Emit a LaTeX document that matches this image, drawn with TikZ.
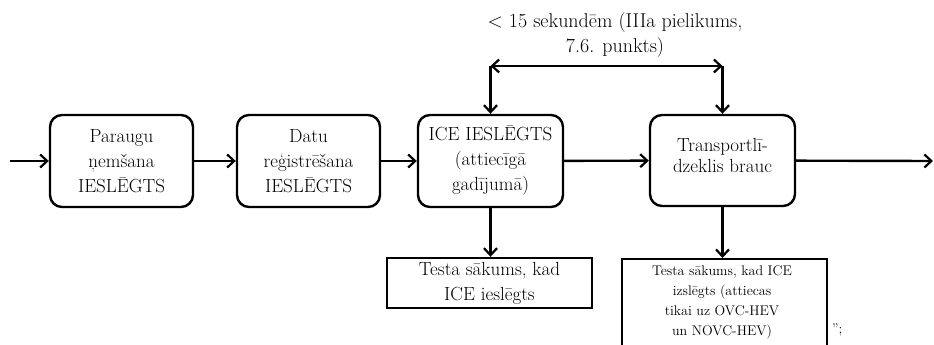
\documentclass[tikz,border=0pt]{standalone}
\usepackage{fontspec}
\usetikzlibrary{arrows.meta}
\begin{document}
\begin{tikzpicture}[x=1pt,y=-1pt,
  barb/.tip={Straight Barb[length=7pt,width=13pt,line width=2.2pt]},
  flow/.style={line width=2.4pt,-barb},
  twoway/.style={line width=2.4pt,barb-barb},
  stage/.style={draw,line width=2.4pt,rounded corners=12pt,
    minimum width=143pt,minimum height=92pt,inner sep=0pt,
    align=center,font=\fontsize{19}{25}\selectfont},
  note/.style={draw,line width=2.4pt,inner sep=0pt,minimum width=205pt},
  txt/.style={align=center,inner sep=0pt}]
\useasboundingbox (0,0) rectangle (934,345);

% main chain of stages
\node[stage] (s1) at (121.5,161) {Paraugu\\ņemšana\\IESLĒGTS};
\node[stage] (s2) at (308.5,161) {Datu\\reģistrēšana\\IESLĒGTS};
\node[stage,minimum width=145pt] (s3) at (490.5,161) {ICE IESLĒGTS\\(attiecīgā\\gadījumā)};
\node[stage,minimum width=145pt,minimum height=91pt] (s4) at (722.5,160.5) {};
\node[txt,font=\fontsize{19}{21}\selectfont,yshift=5pt] (s4t) at (s4.center)
  {Transportlī-\\dzeklis brauc};

% free ends of the chain
\coordinate (in) at (10,161);
\coordinate (out) at (933,161);

\draw[flow] (in) -- (s1);
\draw[flow] (s1) -- (s2);
\draw[flow] (s2) -- (s3);
\draw[flow] (s3) -- (s4);
\draw[flow] (s4) -- (out);

% time limit bracket
\coordinate (tl) at (s3.north |- 0,66);
\coordinate (tr) at (s4.north |- 0,66);
\draw[twoway] (tl) -- (tr);
\draw[flow] (tl) -- (s3.north);
\draw[flow] (tr) -- (s4.north);
\node[txt,font=\fontsize{20}{25}\selectfont] (lim) at (615,35)
  {< 15 sekundēm (IIIa pielikums,\\7.6. punkts)};

% test start boxes
\node[note,minimum height=50pt,txt,draw,font=\fontsize{19}{25}\selectfont]
  (b1) at (489.5,283) {Testa sākums, kad\\ICE ieslēgts};
\node[note,minimum height=95pt,anchor=north] (b2) at (724.5,258) {};
\node[txt,anchor=north,font=\fontsize{14}{20}\selectfont] (b2t) at (722,265)
  {Testa sākums, kad ICE\\izslēgts (attiecas\\tikai uz OVC-HEV\\un NOVC-HEV)};

\draw[flow] (s3.south) -- (s3.south |- b1.north);
\draw[flow] (s4.south) -- (s4.south |- b2.north);

\node[anchor=base west,inner sep=0pt,font=\fontsize{14}{16}\selectfont] (q) at (832,333) {”;};
\end{tikzpicture}
\end{document}
